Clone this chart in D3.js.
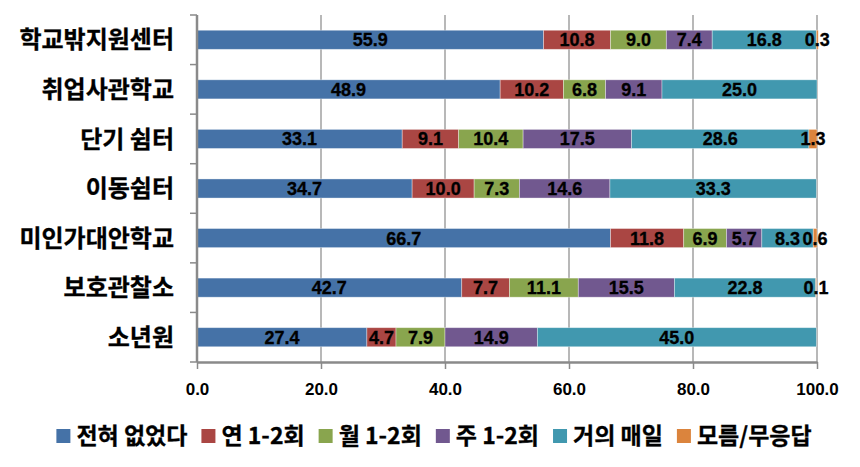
<!DOCTYPE html>
<html>
<head>
<meta charset="utf-8">
<script src="https://cdn.jsdelivr.net/npm/d3@7"></script>
<style>
  html, body { margin: 0; padding: 0; background: #fff; }
  svg { display: block; }
</style>
</head>
<body>
<svg id="chart" width="860" height="467"></svg>
<script>
// ---- data ----
const categories = ["학교밖지원센터", "취업사관학교", "단기 쉼터", "이동쉼터", "미인가대안학교", "보호관찰소", "소년원"];
const seriesNames = ["전혀 없었다", "연 1-2회", "월 1-2회", "주 1-2회", "거의 매일", "모름/무응답"];
const never   = [55.9, 48.9, 33.1, 34.7, 66.7, 42.7, 27.4];
const yearly  = [10.8, 10.2,  9.1, 10.0, 11.8,  7.7,  4.7];
const monthly = [ 9.0,  6.8, 10.4,  7.3,  6.9, 11.1,  7.9];
const weekly  = [ 7.4,  9.1, 17.5, 14.6,  5.7, 15.5, 14.9];
const daily   = [16.8, 25.0, 28.6, 33.3,  8.3, 22.8, 45.0];
const unknown = [ 0.3,  0.0,  1.3,  0.0,  0.6,  0.1,  0.0];
const tickValues = [0, 20, 40, 60, 80, 100];
const colors = ["#4572A7", "#AA4643", "#89A54E", "#71588F", "#4198AF", "#DB843D"];

const seriesValues = [never, yearly, monthly, weekly, daily, unknown];
const rows = categories.map((c, i) => {
  const r = { category: c };
  seriesNames.forEach((s, j) => r[s] = seriesValues[j][i]);
  return r;
});

// ---- layout ----
const svg = d3.select("#chart");
const plotLeft = 197, plotRight = 817, plotTop = 15, plotBottom = 362;
const numFont = "'Liberation Sans', Arial, sans-serif";
const korFont = "'Noto Sans CJK KR', 'Noto Sans', sans-serif";

const x = d3.scaleLinear().domain([0, 100]).range([plotLeft, plotRight]);
const y = d3.scaleBand().domain(categories).range([plotTop, plotBottom])
  .paddingInner(0.615).paddingOuter(0.3075);
const color = d3.scaleOrdinal().domain(seriesNames).range(colors);

// gridlines
svg.append("g").selectAll("line")
  .data(tickValues.filter(d => d > 0))
  .join("line")
  .attr("x1", d => x(d)).attr("x2", d => x(d))
  .attr("y1", plotTop).attr("y2", plotBottom)
  .attr("stroke", "#a0a0a0").attr("stroke-width", 1.5);

// stacked bars
const stacked = d3.stack().keys(seriesNames)(rows);
const layer = svg.append("g").selectAll("g")
  .data(stacked).join("g")
  .attr("fill", d => color(d.key));
layer.selectAll("rect")
  .data(d => d.map(v => ({ v, key: d.key })))
  .join("rect")
  .attr("x", d => x(d.v[0]))
  .attr("width", d => Math.max(0, x(d.v[1]) - x(d.v[0])))
  .attr("y", d => y(d.v.data.category))
  .attr("height", y.bandwidth())
  .attr("stroke", "rgba(255,255,255,0.45)")
  .attr("stroke-width", 0.8);

// data labels
const labelG = svg.append("g");
stacked.forEach(s => {
  s.forEach(v => {
    if (v.data[s.key] > 0) {
      labelG.append("text")
        .attr("x", (x(v[0]) + x(v[1])) / 2)
        .attr("y", y(v.data.category) + y.bandwidth() / 2)
        .attr("dy", "0.36em")
        .attr("text-anchor", "middle")
        .attr("font-family", numFont)
        .attr("font-weight", "bold")
        .attr("font-size", "18px")
        .attr("fill", "#000")
        .attr("stroke", "#000")
        .attr("stroke-width", 0.3)
        .text(d3.format(".1f")(v.data[s.key]));
    }
  });
});

// left axis
const leftAxis = svg.append("g");
leftAxis.append("line")
  .attr("x1", plotLeft).attr("x2", plotLeft).attr("y1", plotTop).attr("y2", plotBottom)
  .attr("stroke", "#8a8a8a").attr("stroke-width", 2.5);
leftAxis.selectAll("line.tick")
  .data(d3.range(categories.length + 1))
  .join("line").attr("class", "tick")
  .attr("x1", plotLeft - 7).attr("x2", plotLeft)
  .attr("y1", i => y.range()[0] + i * y.step())
  .attr("y2", i => y.range()[0] + i * y.step())
  .attr("stroke", "#8a8a8a").attr("stroke-width", 1.5);

// category labels
svg.append("g").selectAll("text")
  .data(categories).join("text")
  .attr("x", 174)
  .attr("y", d => y(d) + y.bandwidth() / 2)
  .attr("dy", "0.36em")
  .attr("text-anchor", "end")
  .attr("font-family", korFont)
  .attr("font-weight", "bold")
  .attr("font-size", "24px")
  .attr("fill", "#000")
  .attr("stroke", "#000")
  .attr("stroke-width", 0.3)
  .text(d => d);

// bottom axis
const xAxis = d3.axisBottom(x).tickValues(tickValues)
  .tickFormat(d3.format(".1f")).tickSizeInner(7).tickSizeOuter(0).tickPadding(14);
const gx = svg.append("g").attr("transform", `translate(0,${plotBottom})`).call(xAxis);
gx.select(".domain").attr("stroke", "#8a8a8a").attr("stroke-width", 2.5);
gx.selectAll(".tick line").attr("stroke", "#8a8a8a").attr("stroke-width", 1.5);
gx.selectAll(".tick text")
  .attr("font-family", numFont).attr("font-weight", "bold")
  .attr("font-size", "17px").attr("fill", "#000");

// legend
const legend = svg.append("g");
const items = legend.selectAll("g").data(seriesNames).join("g");
items.append("rect")
  .attr("width", 14).attr("height", 14)
  .attr("y", -7)
  .attr("fill", d => color(d));
items.append("text")
  .attr("x", 20)
  .attr("dy", "0.36em")
  .attr("font-family", korFont)
  .attr("font-weight", "bold")
  .attr("font-size", "23px")
  .attr("fill", "#000")
  .attr("stroke", "#000")
  .attr("stroke-width", 0.3)
  .text(d => d);
let cursor = 0;
const offsets = [];
items.each(function() {
  const w = 20 + d3.select(this).select("text").node().getComputedTextLength();
  offsets.push(cursor);
  cursor += w + 14;
});
const totalW = cursor - 14;
const startX = 434 - totalW / 2;
items.attr("transform", (d, i) => `translate(${startX + offsets[i]},436)`);
</script>
</body>
</html>
